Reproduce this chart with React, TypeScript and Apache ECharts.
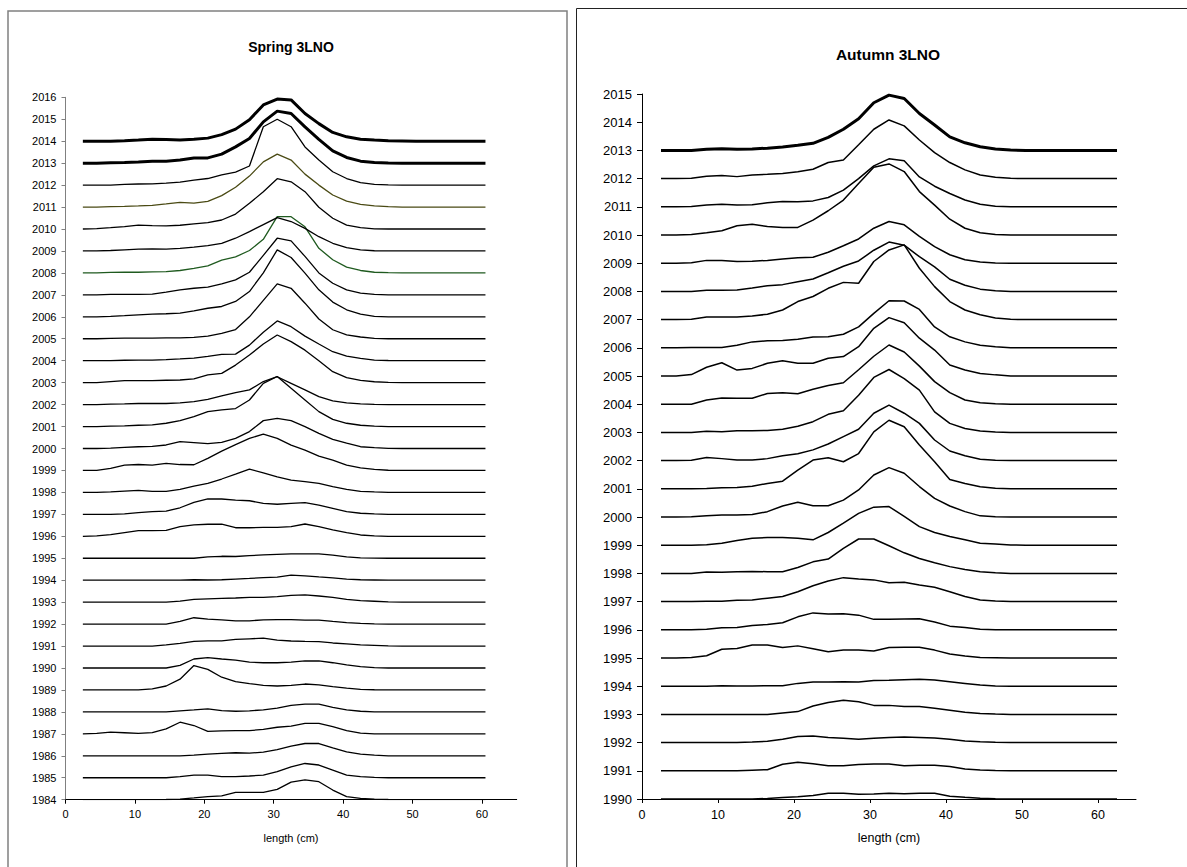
import React, { useEffect, useRef } from "react";
import * as echarts from "echarts";

// ---------- Spring 3LNO (length bins, cm) ----------
const springLengths = [2.5, 4.5, 6.5, 8.5, 10.5, 12.5, 14.5, 16.5, 18.5, 20.5, 22.5, 24.5, 26.5, 28.5, 30.5, 32.5, 34.5, 36.5, 38.5, 40.5, 42.5, 44.5, 46.5, 48.5, 50.5, 52.5, 54.5, 56.5, 58.5, 60.5];
const springYears = [1984, 1985, 1986, 1987, 1988, 1989, 1990, 1991, 1992, 1993, 1994, 1995, 1996, 1997, 1998, 1999, 2000, 2001, 2002, 2003, 2004, 2005, 2006, 2007, 2008, 2009, 2010, 2011, 2012, 2013, 2014];
const springTickYears = [1984, 2016];
const s1984 = [0,0,0,0,0,0,0.01,0.03,0.08,0.14,0.17,0.33,0.33,0.33,0.47,0.8,0.9,0.82,0.44,0.14,0.06,0.03,0.01,0,0,0,0,0,0,0];
const s1985 = [0,0,0,0,0,0,0,0.05,0.12,0.12,0.05,0.05,0.08,0.12,0.28,0.5,0.65,0.58,0.35,0.12,0.05,0.02,0,0,0,0,0,0,0,0];
const s1986 = [0,0,0,0,0,0,0,0,0.03,0.08,0.11,0.14,0.12,0.17,0.28,0.44,0.56,0.56,0.36,0.18,0.08,0.03,0,0,0,0,0,0,0,0];
const s1987 = [0,0.02,0.08,0.05,0.02,0.06,0.23,0.53,0.38,0.11,0.14,0.15,0.15,0.2,0.3,0.35,0.48,0.48,0.33,0.15,0.03,0,0,0,0,0,0,0,0,0];
const s1988 = [0,0,0,0,0,0,0,0.05,0.09,0.14,0.06,0.03,0.05,0.09,0.17,0.3,0.35,0.35,0.21,0.09,0.03,0,0,0,0,0,0,0,0,0];
const s1989 = [0,0,0,0,0,0.05,0.18,0.49,1.11,0.94,0.58,0.38,0.29,0.21,0.18,0.21,0.27,0.23,0.15,0.08,0.03,0.01,0,0,0,0,0,0,0,0];
const s1990 = [0,0,0,0,0,0,0,0.12,0.41,0.47,0.41,0.36,0.27,0.24,0.24,0.27,0.32,0.32,0.24,0.14,0.06,0.02,0,0,0,0,0,0,0,0];
const s1991 = [0,0,0,0,0,0,0.05,0.12,0.21,0.24,0.24,0.3,0.33,0.36,0.27,0.23,0.21,0.2,0.14,0.1,0.05,0.03,0.01,0,0,0,0,0,0,0];
const s1992 = [0,0,0,0,0,0,0,0.12,0.29,0.23,0.19,0.15,0.15,0.19,0.2,0.2,0.18,0.18,0.12,0.07,0.03,0.01,0,0,0,0,0,0,0,0];
const s1993 = [0,0,0,0,0,0,0,0.05,0.13,0.15,0.17,0.19,0.22,0.22,0.25,0.31,0.33,0.28,0.22,0.13,0.07,0.04,0.01,0,0,0,0,0,0,0];
const s1994 = [0,0,0,0,0,0,0,0,0.02,0.01,0.02,0.05,0.08,0.12,0.14,0.23,0.2,0.15,0.11,0.05,0.02,0.01,0,0,0,0,0,0,0,0];
const s1995 = [0,0,0,0,0,0,0,0,0,0.06,0.09,0.08,0.12,0.15,0.18,0.2,0.2,0.2,0.14,0.06,0.02,0.01,0,0,0,0,0,0,0,0];
const s1996 = [0,0.02,0.08,0.17,0.26,0.26,0.27,0.44,0.52,0.55,0.55,0.39,0.39,0.41,0.41,0.44,0.56,0.44,0.29,0.17,0.06,0.02,0,0,0,0,0,0,0,0];
const s1997 = [0,0,0,0.02,0.08,0.12,0.15,0.3,0.55,0.7,0.7,0.65,0.62,0.5,0.46,0.5,0.53,0.42,0.27,0.12,0.05,0.02,0,0,0,0,0,0,0,0];
const s1998 = [0,0,0.02,0.06,0.09,0.05,0.05,0.14,0.29,0.41,0.61,0.83,1.06,0.89,0.71,0.56,0.49,0.41,0.26,0.14,0.05,0.02,0,0,0,0,0,0,0,0];
const s1999 = [0,0,0.09,0.24,0.27,0.24,0.32,0.27,0.26,0.55,0.88,1.18,1.46,1.65,1.46,1.15,0.93,0.65,0.47,0.24,0.12,0.05,0.01,0,0,0,0,0,0,0];
const s2000 = [0,0,0.02,0.05,0.08,0.1,0.16,0.31,0.27,0.22,0.28,0.46,0.77,1.27,1.37,1.27,1.0,0.69,0.42,0.24,0.08,0.04,0.01,0,0,0,0,0,0,0];
const s2001 = [0,0,0.02,0.03,0.06,0.08,0.15,0.27,0.45,0.68,0.76,0.82,1.21,1.97,2.28,1.74,1.21,0.68,0.33,0.15,0.06,0.02,0,0,0,0,0,0,0,0];
const s2002 = [0,0,0.02,0.03,0.05,0.05,0.05,0.08,0.14,0.24,0.4,0.55,0.67,1.05,1.27,0.97,0.67,0.36,0.17,0.08,0.03,0.01,0,0,0,0,0,0,0,0];
const s2003 = [0,0,0.05,0.09,0.09,0.09,0.11,0.12,0.17,0.35,0.42,0.8,1.26,1.76,2.17,1.87,1.48,1.0,0.5,0.23,0.1,0.04,0.01,0,0,0,0,0,0,0];
const s2004 = [0,0,0,0.02,0.03,0.03,0.05,0.08,0.12,0.2,0.29,0.3,0.71,1.3,1.81,1.55,1.12,0.76,0.41,0.21,0.11,0.03,0.01,0,0,0,0,0,0,0];
const s2005 = [0,0,0.02,0.03,0.03,0.03,0.04,0.04,0.06,0.12,0.24,0.42,1.0,1.75,2.5,2.3,1.62,0.9,0.41,0.18,0.08,0.02,0,0,0,0,0,0,0,0];
const s2006 = [0,0,0.02,0.05,0.09,0.12,0.14,0.17,0.27,0.39,0.47,0.7,1.15,2.0,3.05,2.7,1.99,1.23,0.67,0.32,0.12,0.02,0,0,0,0,0,0,0,0];
const s2007 = [0,0,0.02,0.02,0.02,0.03,0.12,0.23,0.3,0.35,0.5,0.68,1.03,1.8,2.58,2.46,1.75,1.0,0.53,0.23,0.08,0.02,0,0,0,0,0,0,0,0];
const s2008 = [0,0,0.02,0.03,0.03,0.05,0.06,0.11,0.21,0.32,0.58,0.73,1.02,1.53,2.56,2.56,2.1,1.12,0.6,0.26,0.11,0.03,0.01,0,0,0,0,0,0,0];
const s2009 = [0,0,0.02,0.05,0.08,0.09,0.08,0.12,0.17,0.24,0.35,0.58,0.88,1.2,1.52,1.34,1.03,0.65,0.35,0.15,0.05,0.01,0,0,0,0,0,0,0,0];
const s2010 = [0,0.02,0.06,0.11,0.18,0.15,0.14,0.17,0.23,0.29,0.41,0.68,1.17,1.7,2.29,2.15,1.7,0.99,0.49,0.18,0.06,0.01,0,0,0,0,0,0,0,0];
const s2011 = [0,0,0.02,0.03,0.05,0.08,0.14,0.21,0.18,0.26,0.52,0.9,1.41,2.06,2.41,2.14,1.5,1.0,0.55,0.27,0.12,0.05,0.02,0,0,0,0,0,0,0];
const s2012 = [0,0,0,0.03,0.05,0.06,0.09,0.14,0.23,0.3,0.47,0.59,0.87,2.66,3.0,2.66,1.74,1.14,0.61,0.3,0.11,0.03,0.01,0,0,0,0,0,0,0];
const s2013 = [0,0,0.02,0.03,0.05,0.09,0.09,0.14,0.23,0.24,0.41,0.74,1.12,1.88,2.37,2.26,1.65,1.08,0.56,0.26,0.09,0.03,0.01,0,0,0,0,0,0,0];
const s2014 = [0,0,0,0.02,0.05,0.09,0.08,0.06,0.09,0.14,0.3,0.55,0.98,1.65,1.92,1.88,1.26,0.8,0.4,0.2,0.09,0.05,0.02,0.01,0,0,0,0,0,0];
const springProfiles = [s1984, s1985, s1986, s1987, s1988, s1989, s1990, s1991, s1992, s1993, s1994, s1995, s1996, s1997, s1998, s1999, s2000, s2001, s2002, s2003, s2004, s2005, s2006, s2007, s2008, s2009, s2010, s2011, s2012, s2013, s2014];

// ---------- Autumn 3LNO ----------
const autumnLengths = [2.5, 4.5, 6.5, 8.5, 10.5, 12.5, 14.5, 16.5, 18.5, 20.5, 22.5, 24.5, 26.5, 28.5, 30.5, 32.5, 34.5, 36.5, 38.5, 40.5, 42.5, 44.5, 46.5, 48.5, 50.5, 52.5, 54.5, 56.5, 58.5, 60.5, 62.5];
const autumnYears = [1990, 1991, 1992, 1993, 1994, 1995, 1996, 1997, 1998, 1999, 2000, 2001, 2002, 2003, 2004, 2005, 2006, 2007, 2008, 2009, 2010, 2011, 2012, 2013];
const autumnTickYears = [1990, 2015];
const a1990 = [0,0,0,0,0,0,0,0.02,0.05,0.08,0.12,0.2,0.2,0.17,0.18,0.2,0.19,0.2,0.2,0.1,0.06,0.03,0.01,0,0,0,0,0,0,0,0];
const a1991 = [0,0,0,0,0,0,0.02,0.04,0.23,0.3,0.25,0.18,0.18,0.22,0.24,0.24,0.18,0.2,0.2,0.15,0.06,0.03,0.01,0,0,0,0,0,0,0,0];
const a1992 = [0,0,0,0,0,0,0.02,0.05,0.12,0.22,0.23,0.18,0.15,0.12,0.15,0.18,0.2,0.18,0.16,0.12,0.06,0.03,0.01,0,0,0,0,0,0,0,0];
const a1993 = [0,0,0,0,0,0,0,0,0.05,0.1,0.3,0.42,0.5,0.45,0.32,0.32,0.28,0.28,0.22,0.15,0.08,0.03,0.01,0,0,0,0,0,0,0,0];
const a1994 = [0,0,0,0,0.02,0.01,0.01,0.02,0.02,0.1,0.15,0.15,0.16,0.15,0.2,0.21,0.23,0.25,0.22,0.16,0.1,0.04,0.01,0,0,0,0,0,0,0,0];
const a1995 = [0,0,0.02,0.08,0.31,0.34,0.46,0.46,0.37,0.43,0.33,0.22,0.28,0.28,0.25,0.37,0.38,0.38,0.28,0.14,0.07,0.02,0.01,0,0,0,0,0,0,0,0];
const a1996 = [0,0,0,0.02,0.07,0.08,0.15,0.19,0.25,0.46,0.6,0.56,0.57,0.52,0.37,0.37,0.38,0.39,0.28,0.13,0.08,0.02,0,0,0,0,0,0,0,0,0];
const a1997 = [0,0,0,0.01,0.01,0.05,0.06,0.12,0.18,0.35,0.56,0.73,0.85,0.8,0.77,0.67,0.69,0.59,0.51,0.35,0.18,0.06,0.02,0,0,0,0,0,0,0,0];
const a1998 = [0,0,0,0.05,0.04,0.06,0.07,0.06,0.06,0.21,0.41,0.51,0.89,1.22,1.22,0.98,0.73,0.53,0.38,0.24,0.14,0.06,0.02,0,0,0,0,0,0,0,0];
const a1999 = [0,0,0,0.02,0.07,0.17,0.25,0.27,0.27,0.25,0.19,0.45,0.78,1.13,1.35,1.37,1.02,0.66,0.45,0.31,0.19,0.07,0.04,0.01,0,0,0,0,0,0,0];
const a2000 = [0,0,0.01,0.04,0.07,0.07,0.09,0.19,0.39,0.52,0.4,0.4,0.6,0.96,1.49,1.75,1.55,1.08,0.66,0.39,0.19,0.04,0.01,0,0,0,0,0,0,0,0];
const a2001 = [0,0,0,0.01,0.04,0.05,0.09,0.19,0.27,0.66,1.02,1.1,0.96,1.25,2.02,2.43,2.2,1.55,0.96,0.33,0.19,0.07,0.02,0,0,0,0,0,0,0,0];
const a2002 = [0,0,0.01,0.11,0.07,0.02,0.02,0.07,0.17,0.24,0.38,0.59,0.85,1.11,1.68,1.97,1.68,1.32,0.73,0.34,0.17,0.05,0.01,0,0,0,0,0,0,0,0];
const a2003 = [0,0,0,0.04,0.02,0.06,0.06,0.07,0.11,0.22,0.38,0.64,0.77,1.32,1.95,2.23,1.91,1.5,0.73,0.32,0.14,0.05,0.01,0,0,0,0,0,0,0,0];
const a2004 = [0,0,0,0.15,0.22,0.21,0.21,0.38,0.41,0.37,0.53,0.66,0.76,1.22,1.7,2.1,1.85,1.35,0.8,0.41,0.15,0.05,0.02,0,0,0,0,0,0,0,0];
const a2005 = [0,0,0.05,0.31,0.47,0.21,0.27,0.45,0.54,0.45,0.45,0.63,0.69,1.04,1.69,2.07,1.89,1.34,0.92,0.39,0.21,0.09,0.04,0,0,0,0,0,0,0,0];
const a2006 = [0,0,0.01,0.01,0.01,0.09,0.21,0.25,0.26,0.3,0.38,0.39,0.48,0.74,1.22,1.67,1.66,1.36,0.74,0.39,0.21,0.09,0.04,0,0,0,0,0,0,0,0];
const a2007 = [0,0,0.01,0.09,0.09,0.09,0.13,0.19,0.34,0.64,0.82,1.11,1.32,1.29,2.06,2.47,2.65,1.82,1.17,0.64,0.34,0.17,0.06,0.01,0,0,0,0,0,0,0];
const a2008 = [0,0,0,0.04,0.04,0.05,0.12,0.2,0.24,0.34,0.44,0.66,0.89,1.08,1.46,1.75,1.64,1.23,0.87,0.43,0.22,0.08,0.02,0,0,0,0,0,0,0,0];
const a2009 = [0,0,0.02,0.1,0.1,0.06,0.07,0.1,0.15,0.19,0.21,0.39,0.62,0.86,1.24,1.48,1.36,0.95,0.59,0.3,0.12,0.04,0.01,0,0,0,0,0,0,0,0];
const a2010 = [0,0,0.02,0.08,0.15,0.33,0.38,0.3,0.27,0.27,0.53,0.86,1.24,1.83,2.4,2.52,2.25,1.54,1.06,0.56,0.24,0.08,0.02,0,0,0,0,0,0,0,0];
const a2011 = [0,0,0.01,0.06,0.09,0.06,0.07,0.14,0.19,0.18,0.21,0.33,0.59,1.0,1.45,1.7,1.63,1.06,0.73,0.47,0.24,0.09,0.02,0,0,0,0,0,0,0,0];
const a2012 = [0,0,0.01,0.08,0.11,0.07,0.13,0.15,0.18,0.24,0.33,0.57,0.66,1.2,1.75,2.08,1.87,1.37,0.92,0.57,0.31,0.13,0.05,0.01,0,0,0,0,0,0,0];
const a2013 = [0,0,0,0.04,0.06,0.04,0.05,0.08,0.12,0.18,0.25,0.46,0.75,1.12,1.69,1.96,1.84,1.31,0.9,0.48,0.27,0.13,0.05,0.01,0,0,0,0,0,0,0];
const autumnProfiles = [a1990, a1991, a1992, a1993, a1994, a1995, a1996, a1997, a1998, a1999, a2000, a2001, a2002, a2003, a2004, a2005, a2006, a2007, a2008, a2009, a2010, a2011, a2012, a2013];

const lengthTicks = [0, 10, 20, 30, 40, 50, 60];
const lengthRange = [0, 65];

const FONT = "'Liberation Sans', Arial, sans-serif";

function lineColor(panel: string, year: number): string {
  if (panel === "spring" && year === 2011) return "#4a4a14";
  if (panel === "spring" && year === 2008) return "#1f5a1f";
  return "#000000";
}
function lineWidth(panel: string, year: number): number {
  if (panel === "spring" && (year === 2013 || year === 2014)) return 3;
  if (panel === "autumn" && year === 2013) return 3;
  return panel === "spring" ? 1.3 : 1.5;
}

function buildSeries(panel: string, idx: number, years: number[], lengths: number[], profiles: number[][]) {
  return years.map((yr, i) => ({
    type: "line",
    name: panel + " " + yr,
    xAxisIndex: idx,
    yAxisIndex: idx,
    symbol: "none",
    showSymbol: false,
    silent: true,
    animation: false,
    lineStyle: { color: lineColor(panel, yr), width: lineWidth(panel, yr) },
    data: lengths.map((x, j) => [x, yr + (profiles[i][j] ?? 0)]),
  }));
}

export default function App() {
  const ref = useRef<HTMLDivElement>(null);
  useEffect(() => {
    const chart = echarts.init(ref.current!, null, { renderer: "svg" });
    const xAxisBase = (idx: number, fs: number) => ({
      gridIndex: idx,
      type: "value",
      min: lengthRange[0],
      max: lengthRange[1],
      interval: 10,
      axisLine: { show: true, onZero: false, lineStyle: { color: "#000", width: 1 } },
      axisTick: { show: true, customValues: lengthTicks, length: 4, lineStyle: { color: "#000" } },
      axisLabel: { customValues: lengthTicks, fontSize: fs, fontFamily: FONT, color: "#000", margin: 9 },
      splitLine: { show: false },
    });
    const yAxisBase = (idx: number, range: number[], fs: number, col: string, tick: number, margin: number) => ({
      gridIndex: idx,
      type: "value",
      min: range[0],
      max: range[1],
      interval: 1,
      axisLine: { show: true, lineStyle: { color: col, width: 1 } },
      axisTick: { show: true, length: tick, lineStyle: { color: col } },
      axisLabel: { fontSize: fs, fontFamily: FONT, color: "#000", margin, formatter: (v: number) => String(v) },
      splitLine: { show: false },
    });
    chart.setOption({
      animation: false,
      backgroundColor: "#ffffff",
      grid: [
        { left: 65.5, top: 97.3, width: 451.2, height: 702.4 },
        { left: 642, top: 94, width: 494, height: 705 },
      ],
      xAxis: [xAxisBase(0, 11), xAxisBase(1, 12.5)],
      yAxis: [
        yAxisBase(0, springTickYears, 11, "#808080", 4, 9),
        yAxisBase(1, autumnTickYears, 13, "#000", 5, 10),
      ],
      graphic: [
        { type: "rect", silent: true, shape: { x: 8, y: 11, width: 559, height: 900 }, style: { fill: "none", stroke: "#808080", lineWidth: 1.5 } },
        { type: "rect", silent: true, shape: { x: 576.5, y: 8.5, width: 640, height: 900 }, style: { fill: "none", stroke: "#222", lineWidth: 1 } },
        { type: "text", silent: true, x: 291, y: 47, style: { text: "Spring 3LNO", font: `bold 14px ${FONT}`, fill: "#000", align: "center", verticalAlign: "middle", textAlign: "center", textVerticalAlign: "middle" } },
        { type: "text", silent: true, x: 888, y: 54, style: { text: "Autumn 3LNO", font: `bold 15.5px ${FONT}`, fill: "#000", align: "center", verticalAlign: "middle", textAlign: "center", textVerticalAlign: "middle" } },
        { type: "text", silent: true, x: 291, y: 838, style: { text: "length (cm)", font: `11px ${FONT}`, fill: "#000", align: "center", verticalAlign: "middle", textAlign: "center", textVerticalAlign: "middle" } },
        { type: "text", silent: true, x: 889, y: 838, style: { text: "length (cm)", font: `12.5px ${FONT}`, fill: "#000", align: "center", verticalAlign: "middle", textAlign: "center", textVerticalAlign: "middle" } },
      ],
      series: [
        ...buildSeries("spring", 0, springYears, springLengths, springProfiles),
        ...buildSeries("autumn", 1, autumnYears, autumnLengths, autumnProfiles),
      ],
    });
    return () => chart.dispose();
  }, []);
  return (
    <div
      ref={ref}
      style={{ position: "absolute", left: 0, top: 0, width: 1187, height: 867, background: "#fff" }}
    />
  );
}
